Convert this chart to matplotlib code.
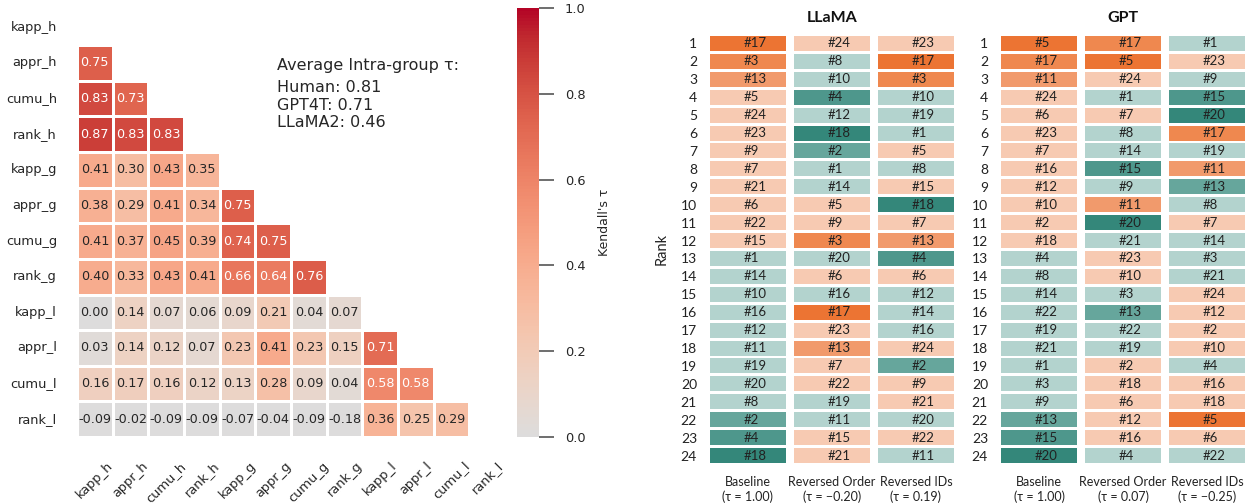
import numpy as np
import matplotlib
matplotlib.use("Agg")
import matplotlib.pyplot as plt
import seaborn as sns
from matplotlib.colors import LinearSegmentedColormap

# ---------------- data ----------------
metrics = ["kapp_h", "appr_h", "cumu_h", "rank_h",
           "kapp_g", "appr_g", "cumu_g", "rank_g",
           "kapp_l", "appr_l", "cumu_l", "rank_l"]

# lower triangle of the Kendall tau matrix, row by row
tau_rows = [
    [],
    [0.75],
    [0.83, 0.73],
    [0.87, 0.83, 0.83],
    [0.41, 0.30, 0.43, 0.35],
    [0.38, 0.29, 0.41, 0.34, 0.75],
    [0.41, 0.37, 0.45, 0.39, 0.74, 0.75],
    [0.40, 0.33, 0.43, 0.41, 0.66, 0.64, 0.76],
    [0.00, 0.14, 0.07, 0.06, 0.09, 0.21, 0.04, 0.07],
    [0.03, 0.14, 0.12, 0.07, 0.23, 0.41, 0.23, 0.15, 0.71],
    [0.16, 0.17, 0.16, 0.12, 0.13, 0.28, 0.09, 0.04, 0.58, 0.58],
    [-0.09, -0.02, -0.09, -0.09, -0.07, -0.04, -0.09, -0.18, 0.36, 0.25, 0.29],
]

avg_title = "Average Intra-group \u03c4:"
avg_lines = ["Human: 0.81", "GPT4T: 0.71", "LLaMA2: 0.46"]

conditions = ["Baseline", "Reversed Order", "Reversed IDs"]

llama_baseline = [17, 3, 13, 5, 24, 23, 9, 7, 21, 6, 22, 15, 1, 14, 10, 16, 12, 11, 19, 20, 8, 2, 4, 18]
llama_rev_order = [24, 8, 10, 4, 12, 18, 2, 1, 14, 5, 9, 3, 20, 6, 16, 17, 23, 13, 7, 22, 19, 11, 15, 21]
llama_rev_ids = [23, 17, 3, 10, 19, 1, 5, 8, 15, 18, 7, 13, 4, 6, 12, 14, 16, 24, 2, 9, 21, 20, 22, 11]
llama_taus = ["1.00", "\u22120.20", "0.19"]

gpt_baseline = [5, 17, 11, 24, 6, 23, 7, 16, 12, 10, 2, 18, 4, 8, 14, 22, 19, 21, 1, 3, 9, 13, 15, 20]
gpt_rev_order = [17, 5, 24, 1, 7, 8, 14, 15, 9, 11, 20, 21, 23, 10, 3, 13, 22, 19, 2, 18, 6, 12, 16, 4]
gpt_rev_ids = [1, 23, 9, 15, 20, 17, 19, 11, 13, 8, 7, 14, 3, 21, 24, 12, 2, 10, 4, 16, 18, 5, 6, 22]
gpt_taus = ["1.00", "0.07", "\u22120.25"]

# colours by baseline rank
top_cols = ["#EC7433", "#EF884F", "#F19A6C"]
upper_col = "#F7CAB2"
lower_col = "#B3D3CE"
bottom_cols = ["#66A69C", "#4E978C", "#34877A"]

# ---------------- figure ----------------
W, H = 1248, 503
fig = plt.figure(figsize=(W / 100, H / 100), dpi=100)
txt = "#262626"

n = len(metrics)
mat = np.full((n, n), np.nan)
for i, row in enumerate(tau_rows):
    for j, v in enumerate(row):
        mat[i, j] = v
mask = np.triu(np.ones((n, n), dtype=bool))

cw = plt.get_cmap("coolwarm")
cmap = LinearSegmentedColormap.from_list("cw_half", cw(np.linspace(0.5, 1.0, 256)))

ax = fig.add_axes([77 / W, 1 - 437 / H, 428 / W, 427.5 / H])
cax = fig.add_axes([517 / W, 1 - 437 / H, 22 / W, 429 / H])
sns.heatmap(mat, mask=mask, cmap=cmap, vmin=0, vmax=1, annot=True, fmt=".2f",
            linewidths=1, linecolor="white", ax=ax, cbar_ax=cax,
            annot_kws={"size": 9.2}, xticklabels=metrics, yticklabels=metrics)
ax.tick_params(axis="both", length=0, labelsize=9.4, colors=txt)
ax.tick_params(axis="y", pad=14.4)
ax.tick_params(axis="x", pad=16)
plt.setp(ax.get_yticklabels(), rotation=0)
plt.setp(ax.get_xticklabels(), rotation=45, ha="center")

cax.tick_params(length=10.8, width=1.2, color="#555555", pad=7.9, labelsize=9.4, labelcolor=txt)
cax.set_yticks([0.0, 0.2, 0.4, 0.6, 0.8, 1.0])
cax.set_ylabel("Kendall's \u03c4", fontsize=9, color=txt, labelpad=9)

fig.text(277 / W, 1 - 70 / H, avg_title, fontsize=11.5, color=txt, va="baseline")
for k, line in enumerate(avg_lines):
    fig.text(277 / W, 1 - (91.7 + 17.8 * k) / H, line, fontsize=11.5, color=txt, va="baseline")

# ---------------- rank tables ----------------
fam = ["Lato", "DejaVu Sans"]
ranks = np.arange(1, 25)


def rank_table(left_px, title, columns, taus, ylabel):
    tab = fig.add_axes([left_px / W, 1 - 464.5 / H, 252 / W, 430 / H])
    base = columns[0]
    colour = {}
    for r, item in enumerate(base):
        if r < 3:
            colour[item] = top_cols[r]
        elif r < 12:
            colour[item] = upper_col
        elif r < 21:
            colour[item] = lower_col
        else:
            colour[item] = bottom_cols[r - 21]
    for c, col in enumerate(columns):
        tab.barh(ranks, 0.905, left=c - 0.4525, height=0.84,
                 color=[colour[it] for it in col], edgecolor="none")
        for r, it in zip(ranks, col):
            tab.text(c - 0.05, r, f"#{it}", ha="left", va="center",
                     fontsize=9.5, color="#222222", family=fam)
    tab.set_xlim(-0.5, 2.5)
    tab.set_ylim(24.5, 0.5)
    for s in tab.spines.values():
        s.set_visible(False)
    tab.set_yticks(ranks)
    tab.set_yticklabels([str(r) for r in ranks], family=fam, fontsize=10, color="#222222")
    tab.set_xticks([0, 1, 2])
    tab.set_xticklabels([f"{c}\n(\u03c4 = {t})" for c, t in zip(conditions, taus)],
                        family=fam, fontsize=9, color="#222222", linespacing=1.25)
    tab.tick_params(length=0)
    tab.tick_params(axis="y", pad=6.5)
    tab.tick_params(axis="x", pad=8)
    tab.set_title(title, fontweight="bold", fontsize=11.5, family=fam, pad=9, color="#111111")
    if ylabel:
        tab.set_ylabel("Rank", family=fam, fontsize=10.5, color="#222222", labelpad=9)
    return tab


rank_table(706, "LLaMA", [llama_baseline, llama_rev_order, llama_rev_ids], llama_taus, True)
rank_table(997, "GPT", [gpt_baseline, gpt_rev_order, gpt_rev_ids], gpt_taus, False)

fig.savefig("out.png", dpi=100)
